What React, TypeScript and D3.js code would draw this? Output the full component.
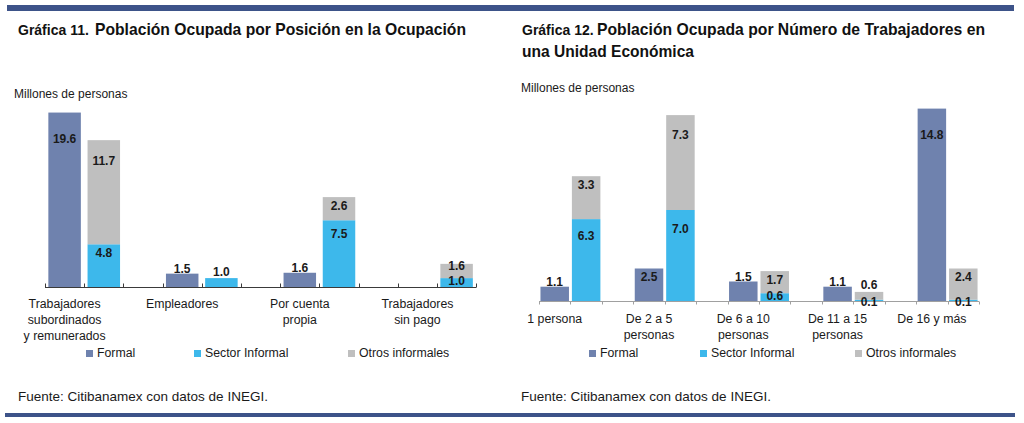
import React from "react";
import * as d3 from "d3";

// ---------- data ----------
const leftCategories: string[][] = [
  ["Trabajadores", "subordinados", "y remunerados"],
  ["Empleadores"],
  ["Por cuenta", "propia"],
  ["Trabajadores", "sin pago"],
];
const leftFormal = [19.6, 1.5, 1.6, 0];
const leftSectorInformal = [4.8, 1.0, 7.5, 1.0];
const leftOtrosInformales = [11.7, 0, 2.6, 1.6];

const rightCategories: string[][] = [
  ["1 persona"],
  ["De 2 a 5", "personas"],
  ["De 6 a 10", "personas"],
  ["De 11 a 15", "personas"],
  ["De 16 y más"],
];
const rightFormal = [1.1, 2.5, 1.5, 1.1, 14.8];
const rightSectorInformal = [6.3, 7.0, 0.6, 0.1, 0.1];
const rightOtrosInformales = [3.3, 7.3, 1.7, 0.6, 2.4];

const seriesNames = ["Formal", "Sector Informal", "Otros informales"];

// ---------- styles ----------
const COLORS = ["#6f82ae", "#3db8eb", "#bfbfbf"];
const RULE = "#3d5389";
const FONT = "'Liberation Sans', Arial, sans-serif";
const TEXT = "#1a1a1a";

type ChartCfg = {
  x0: number;
  slotW: number;
  axisSlots: number;
  baseY: number;
  yMax: number;
  yTop: number;
  barW: number;
  axisColor: string;
  tickDir: number;
  catBaselines: number[];
  legendY: number;
  legendX: number[];
  unitX: number;
  unitY: number;
};

function labelY(top: number, h: number, series: number, hasAbove: boolean) {
  if (h >= 20) {
    const off = Math.max(8, Math.min(26, 0.2 * h));
    return top + off + 4.5;
  }
  if (series === 0) return top - 5 + 4.5;
  if (series === 1) return hasAbove ? top + 2 + 4.5 : top - 7 + 4.5;
  return h < 10 ? top - 7 + 4.5 : top + 2 + 4.5;
}

function Chart({
  cfg,
  cats,
  formal,
  informal,
  otros,
}: {
  cfg: ChartCfg;
  cats: string[][];
  formal: number[];
  informal: number[];
  otros: number[];
}) {
  const x = d3
    .scaleLinear()
    .domain([0, cfg.axisSlots])
    .range([cfg.x0, cfg.x0 + cfg.axisSlots * cfg.slotW]);
  const y = d3.scaleLinear().domain([0, cfg.yMax]).range([cfg.baseY, cfg.yTop]);
  const ticks = d3.range(0, cfg.axisSlots + 1);

  const bars: JSX.Element[] = [];
  const labels: JSX.Element[] = [];
  cats.forEach((_, i) => {
    const fCx = x(i * 3 + 0.5);
    const sCx = x(i * 3 + 1.5);
    const segs = [
      { s: 0, cx: fCx, y0: 0, v: formal[i], above: false },
      { s: 1, cx: sCx, y0: 0, v: informal[i], above: otros[i] > 0 },
      { s: 2, cx: sCx, y0: informal[i], v: otros[i], above: false },
    ];
    segs.forEach((g) => {
      if (g.v <= 0) return;
      const top = y(g.y0 + g.v);
      const bot = y(g.y0);
      bars.push(
        <rect
          key={`b${i}-${g.s}`}
          x={g.cx - cfg.barW / 2}
          y={top}
          width={cfg.barW}
          height={bot - top}
          fill={COLORS[g.s]}
        />
      );
      labels.push(
        <text
          key={`l${i}-${g.s}`}
          x={g.cx}
          y={labelY(top, bot - top, g.s, g.above)}
          textAnchor="middle"
          fontFamily={FONT}
          fontWeight="bold"
          fontSize={12}
          fill={TEXT}
        >
          {g.v.toFixed(1)}
        </text>
      );
    });
  });

  return (
    <g>
      <text x={cfg.unitX} y={cfg.unitY} fontFamily={FONT} fontSize={12} fill={TEXT}>
        Millones de personas
      </text>
      <line
        x1={x(0)}
        x2={x(cfg.axisSlots)}
        y1={cfg.baseY + 0.5}
        y2={cfg.baseY + 0.5}
        stroke={cfg.axisColor}
        strokeWidth={1}
      />
      {ticks.map((t) => (
        <line
          key={`t${t}`}
          x1={Math.round(x(t)) + 0.5}
          x2={Math.round(x(t)) + 0.5}
          y1={cfg.baseY + 0.5}
          y2={cfg.baseY + 0.5 + cfg.tickDir}
          stroke={cfg.axisColor}
          strokeWidth={1}
        />
      ))}
      {bars}
      {labels}
      {cats.map((lines, i) => (
        <text
          key={`c${i}`}
          x={x(i * 3 + 0.5)}
          textAnchor="middle"
          fontFamily={FONT}
          fontSize={12.3}
          fill={TEXT}
        >
          {lines.map((ln, k) => (
            <tspan key={k} x={x(i * 3 + 0.5)} y={cfg.catBaselines[k]}>
              {ln}
            </tspan>
          ))}
        </text>
      ))}
      {seriesNames.map((n, k) => (
        <g key={`lg${k}`}>
          <rect
            x={cfg.legendX[k]}
            y={cfg.legendY - 7}
            width={7}
            height={7}
            fill={COLORS[k]}
          />
          <text
            x={cfg.legendX[k] + 11}
            y={cfg.legendY}
            fontFamily={FONT}
            fontSize={12.3}
            fill={TEXT}
          >
            {n}
          </text>
        </g>
      ))}
    </g>
  );
}

const leftCfg: ChartCfg = {
  x0: 45,
  slotW: 39.2,
  axisSlots: 11,
  baseY: 287,
  yMax: 20,
  yTop: 287 - 178,
  barW: 32.5,
  axisColor: "#3a3a3a",
  tickDir: -4,
  catBaselines: [308, 324, 340],
  legendY: 357,
  legendX: [86, 194, 348],
  unitX: 14,
  unitY: 98,
};

const rightCfg: ChartCfg = {
  x0: 539,
  slotW: 31.43,
  axisSlots: 14,
  baseY: 301,
  yMax: 15,
  yTop: 301 - 195,
  barW: 28.5,
  axisColor: "#a0a0a0",
  tickDir: 3,
  catBaselines: [323, 339],
  legendY: 357,
  legendX: [589, 700, 855],
  unitX: 521,
  unitY: 92,
};

export default function App() {
  return (
    <svg
      width={1024}
      height={423}
      style={{ position: "absolute", left: 0, top: 0, background: "#fff" }}
    >
      <rect x={0} y={0} width={1024} height={423} fill="#fff" />
      <rect x={7} y={5} width={1007} height={6} fill={RULE} />
      <rect x={5} y={413} width={1010} height={4} fill={RULE} />

      <text y={35} fontFamily={FONT} fontWeight="bold" fill="#111">
        <tspan x={18} fontSize={14}>
          Gráfica 11.
        </tspan>
        <tspan x={95} fontSize={17} textLength={371} lengthAdjust="spacingAndGlyphs">
          Población Ocupada por Posición en la Ocupación
        </tspan>
      </text>
      <text y={35} fontFamily={FONT} fontWeight="bold" fill="#111">
        <tspan x={522} fontSize={14}>
          Gráfica 12.
        </tspan>
        <tspan x={597} fontSize={17} textLength={388} lengthAdjust="spacingAndGlyphs">
          Población Ocupada por Número de Trabajadores en
        </tspan>
      </text>
      <text
        x={522}
        y={57}
        fontFamily={FONT}
        fontWeight="bold"
        fontSize={17}
        fill="#111"
        textLength={172}
        lengthAdjust="spacingAndGlyphs"
      >
        una Unidad Económica
      </text>

      <Chart
        cfg={leftCfg}
        cats={leftCategories}
        formal={leftFormal}
        informal={leftSectorInformal}
        otros={leftOtrosInformales}
      />
      <Chart
        cfg={rightCfg}
        cats={rightCategories}
        formal={rightFormal}
        informal={rightSectorInformal}
        otros={rightOtrosInformales}
      />

      <text x={18} y={401} fontFamily={FONT} fontSize={13.5} fill={TEXT}>
        Fuente: Citibanamex con datos de INEGI.
      </text>
      <text x={521} y={401} fontFamily={FONT} fontSize={13.5} fill={TEXT}>
        Fuente: Citibanamex con datos de INEGI.
      </text>
    </svg>
  );
}
